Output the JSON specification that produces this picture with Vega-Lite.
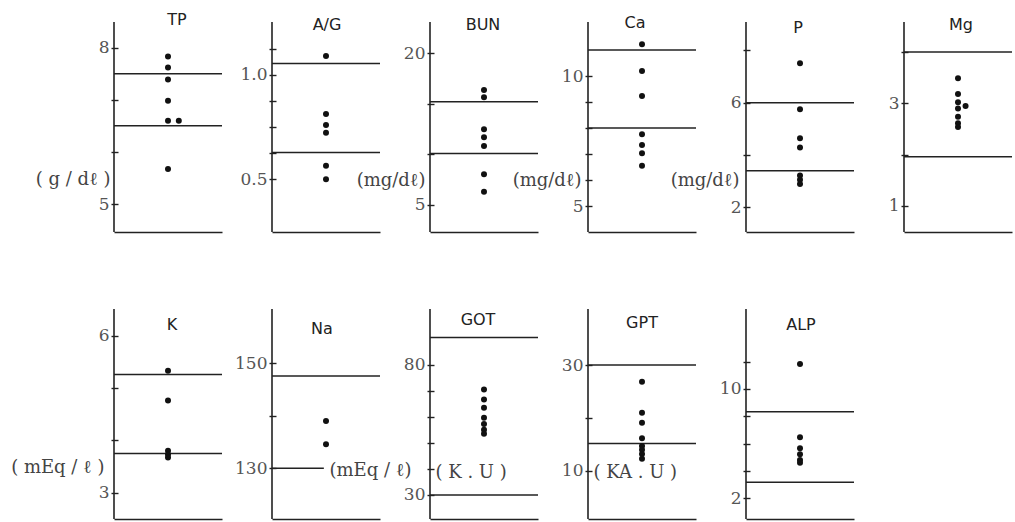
{
  "$schema": "https://vega.github.io/schema/vega-lite/v6.json",
  "autosize": {"type": "none"},
  "padding": {"left": 114, "top": 22, "right": 901, "bottom": 500},
  "background": "white",
  "bounds": "flush",
  "spacing": 287,
  "datasets": {
    "dots": [
      {"test": "TP", "value": 7.83, "j": 0}, {"test": "TP", "value": 7.62, "j": 0}, {"test": "TP", "value": 7.39, "j": 0}, {"test": "TP", "value": 6.98, "j": 0}, {"test": "TP", "value": 6.60, "j": 0}, {"test": "TP", "value": 6.60, "j": 1}, {"test": "TP", "value": 5.67, "j": 0},
      {"test": "A/G", "value": 1.091, "j": 0}, {"test": "A/G", "value": 0.813, "j": 0}, {"test": "A/G", "value": 0.760, "j": 0}, {"test": "A/G", "value": 0.723, "j": 0}, {"test": "A/G", "value": 0.565, "j": 0}, {"test": "A/G", "value": 0.500, "j": 0},
      {"test": "BUN", "value": 16.37, "j": 0}, {"test": "BUN", "value": 15.65, "j": 0}, {"test": "BUN", "value": 12.48, "j": 0}, {"test": "BUN", "value": 11.69, "j": 0}, {"test": "BUN", "value": 10.83, "j": 0}, {"test": "BUN", "value": 8.03, "j": 0}, {"test": "BUN", "value": 6.31, "j": 0},
      {"test": "Ca", "value": 11.22, "j": 0}, {"test": "Ca", "value": 10.19, "j": 0}, {"test": "Ca", "value": 9.23, "j": 0}, {"test": "Ca", "value": 7.76, "j": 0}, {"test": "Ca", "value": 7.35, "j": 0}, {"test": "Ca", "value": 7.03, "j": 0}, {"test": "Ca", "value": 6.55, "j": 0},
      {"test": "P", "value": 7.51, "j": 0}, {"test": "P", "value": 5.75, "j": 0}, {"test": "P", "value": 4.64, "j": 0}, {"test": "P", "value": 4.29, "j": 0}, {"test": "P", "value": 3.22, "j": 0}, {"test": "P", "value": 3.05, "j": 0}, {"test": "P", "value": 2.89, "j": 0},
      {"test": "Mg", "value": 3.49, "j": 0}, {"test": "Mg", "value": 3.18, "j": 0}, {"test": "Mg", "value": 3.02, "j": 0}, {"test": "Mg", "value": 2.95, "j": 0.7}, {"test": "Mg", "value": 2.90, "j": 0}, {"test": "Mg", "value": 2.74, "j": 0}, {"test": "Mg", "value": 2.61, "j": 0}, {"test": "Mg", "value": 2.54, "j": 0},
      {"test": "K", "value": 5.33, "j": 0}, {"test": "K", "value": 4.76, "j": 0}, {"test": "K", "value": 3.80, "j": 0}, {"test": "K", "value": 3.73, "j": 0}, {"test": "K", "value": 3.67, "j": 0},
      {"test": "Na", "value": 139.0, "j": 0}, {"test": "Na", "value": 134.6, "j": 0},
      {"test": "GOT", "value": 70.6, "j": 0}, {"test": "GOT", "value": 66.7, "j": 0}, {"test": "GOT", "value": 63.5, "j": 0}, {"test": "GOT", "value": 59.7, "j": 0}, {"test": "GOT", "value": 57.3, "j": 0}, {"test": "GOT", "value": 55.1, "j": 0}, {"test": "GOT", "value": 53.5, "j": 0},
      {"test": "GPT", "value": 26.85, "j": 0}, {"test": "GPT", "value": 21.0, "j": 0}, {"test": "GPT", "value": 19.1, "j": 0}, {"test": "GPT", "value": 16.2, "j": 0}, {"test": "GPT", "value": 14.7, "j": 0}, {"test": "GPT", "value": 14.0, "j": 0}, {"test": "GPT", "value": 13.2, "j": 0}, {"test": "GPT", "value": 12.3, "j": 0},
      {"test": "ALP", "value": 11.83, "j": 0}, {"test": "ALP", "value": 6.47, "j": 0}, {"test": "ALP", "value": 5.66, "j": 0}, {"test": "ALP", "value": 5.22, "j": 0}, {"test": "ALP", "value": 4.81, "j": 0}, {"test": "ALP", "value": 4.61, "j": 0}
    ],
    "limits": [
      {"test": "TP", "value": 7.5, "bound": "upper"}, {"test": "TP", "value": 6.5, "bound": "lower"},
      {"test": "A/G", "value": 1.055, "bound": "upper"}, {"test": "A/G", "value": 0.628, "bound": "lower"},
      {"test": "BUN", "value": 15.2, "bound": "upper"}, {"test": "BUN", "value": 10.1, "bound": "lower"},
      {"test": "Ca", "value": 11.0, "bound": "upper"}, {"test": "Ca", "value": 8.0, "bound": "lower"},
      {"test": "P", "value": 6.0, "bound": "upper"}, {"test": "P", "value": 3.4, "bound": "lower"},
      {"test": "Mg", "value": 4.0, "bound": "upper"}, {"test": "Mg", "value": 1.96, "bound": "lower"},
      {"test": "K", "value": 5.26, "bound": "upper"}, {"test": "K", "value": 3.75, "bound": "lower"},
      {"test": "Na", "value": 147.6, "bound": "upper"}, {"test": "Na", "value": 130, "bound": "lower"},
      {"test": "GOT", "value": 90.6, "bound": "upper"}, {"test": "GOT", "value": 30, "bound": "lower"},
      {"test": "GPT", "value": 30, "bound": "upper"}, {"test": "GPT", "value": 15.2, "bound": "lower"},
      {"test": "ALP", "value": 8.34, "bound": "upper"}, {"test": "ALP", "value": 3.17, "bound": "lower"}
    ]
  },
  "vconcat": [
    {
      "bounds": "flush",
      "spacing": 50,
      "hconcat": [
        {
          "width": 108, "height": 210,
          "title": {"text": "TP", "offset": -7, "dx": 9},
          "layer": [
            {"data": {"values": [{}]}, "mark": {"type": "rule", "color": "#222", "strokeWidth": 1.6}, "encoding": {"x": {"datum": -5, "type": "quantitative", "scale": {"domain": [-5, 5]}, "axis": {"title": null}}}},
            {"data": {"name": "limits"}, "transform": [{"filter": "datum.test === 'TP'"}], "mark": {"type": "rule", "color": "#222", "strokeWidth": 1.5},
             "encoding": {"y": {"field": "value", "type": "quantitative", "scale": {"domain": [4.463, 8.493], "nice": false, "zero": false},
               "axis": {"values": [8, 7, 6, 5], "labelExpr": "datum.value === 8 || datum.value === 5 ? datum.label : ''", "title": "( g / dℓ )", "titleX": -8, "titleY": 157}}}},
            {"data": {"name": "dots"}, "transform": [{"filter": "datum.test === 'TP'"}], "mark": {"type": "circle", "size": 36, "color": "#111", "opacity": 1},
             "encoding": {"x": {"field": "j", "type": "quantitative", "scale": {"domain": [-5, 5]}, "axis": {"title": null}}, "y": {"field": "value", "type": "quantitative", "scale": {"domain": [4.463, 8.493], "nice": false, "zero": false},
               "axis": {"values": [8, 7, 6, 5], "labelExpr": "datum.value === 8 || datum.value === 5 ? datum.label : ''", "title": "( g / dℓ )", "titleX": -8, "titleY": 157}}}}
          ]
        },
        {
          "width": 108, "height": 210,
          "title": {"text": "A/G", "offset": -12, "dx": 1},
          "layer": [
            {"data": {"values": [{}]}, "mark": {"type": "rule", "color": "#222", "strokeWidth": 1.6}, "encoding": {"x": {"datum": -5, "type": "quantitative", "scale": {"domain": [-5, 5]}, "axis": {"title": null}}}},
            {"data": {"name": "limits"}, "transform": [{"filter": "datum.test === 'A/G'"}], "mark": {"type": "rule", "color": "#222", "strokeWidth": 1.5},
             "encoding": {"y": {"field": "value", "type": "quantitative", "scale": {"domain": [0.247, 1.254], "nice": false, "zero": false},
               "axis": {"values": [1.125, 1.0, 0.875, 0.75, 0.625, 0.5], "format": ".1f", "labelExpr": "datum.value === 1 || datum.value === 0.5 ? datum.label : ''", "title": null}}}},
            {"data": {"name": "dots"}, "transform": [{"filter": "datum.test === 'A/G'"}], "mark": {"type": "circle", "size": 36, "color": "#111", "opacity": 1},
             "encoding": {"x": {"field": "j", "type": "quantitative", "scale": {"domain": [-5, 5]}, "axis": {"title": null}}, "y": {"field": "value", "type": "quantitative", "scale": {"domain": [0.247, 1.254], "nice": false, "zero": false},
               "axis": {"values": [1.125, 1.0, 0.875, 0.75, 0.625, 0.5], "format": ".1f", "labelExpr": "datum.value === 1 || datum.value === 0.5 ? datum.label : ''", "title": null}}}}
          ]
        },
        {
          "width": 108, "height": 210,
          "title": {"text": "BUN", "offset": -12, "dx": -1},
          "layer": [
            {"data": {"values": [{}]}, "mark": {"type": "rule", "color": "#222", "strokeWidth": 1.6}, "encoding": {"x": {"datum": -5, "type": "quantitative", "scale": {"domain": [-5, 5]}, "axis": {"title": null}}}},
            {"data": {"name": "limits"}, "transform": [{"filter": "datum.test === 'BUN'"}], "mark": {"type": "rule", "color": "#222", "strokeWidth": 1.5},
             "encoding": {"y": {"field": "value", "type": "quantitative", "scale": {"domain": [2.32, 23.10], "nice": false, "zero": false},
               "axis": {"values": [20, 15, 10, 5], "labelExpr": "datum.value === 20 || datum.value === 5 ? datum.label : ''", "title": "(mg/dℓ)", "titleX": -9, "titleY": 158}}}},
            {"data": {"name": "dots"}, "transform": [{"filter": "datum.test === 'BUN'"}], "mark": {"type": "circle", "size": 36, "color": "#111", "opacity": 1},
             "encoding": {"x": {"field": "j", "type": "quantitative", "scale": {"domain": [-5, 5]}, "axis": {"title": null}}, "y": {"field": "value", "type": "quantitative", "scale": {"domain": [2.32, 23.10], "nice": false, "zero": false},
               "axis": {"values": [20, 15, 10, 5], "labelExpr": "datum.value === 20 || datum.value === 5 ? datum.label : ''", "title": "(mg/dℓ)", "titleX": -9, "titleY": 158}}}}
          ]
        },
        {
          "width": 108, "height": 210,
          "title": {"text": "Ca", "offset": -10, "dx": -7},
          "layer": [
            {"data": {"values": [{}]}, "mark": {"type": "rule", "color": "#222", "strokeWidth": 1.6}, "encoding": {"x": {"datum": -5, "type": "quantitative", "scale": {"domain": [-5, 5]}, "axis": {"title": null}}}},
            {"data": {"name": "limits"}, "transform": [{"filter": "datum.test === 'Ca'"}], "mark": {"type": "rule", "color": "#222", "strokeWidth": 1.5},
             "encoding": {"y": {"field": "value", "type": "quantitative", "scale": {"domain": [4.0, 12.08], "nice": false, "zero": false},
               "axis": {"values": [10, 9, 8, 7, 6, 5], "labelExpr": "datum.value === 10 || datum.value === 5 ? datum.label : ''", "title": "(mg/dℓ)", "titleX": -11, "titleY": 158}}}},
            {"data": {"name": "dots"}, "transform": [{"filter": "datum.test === 'Ca'"}], "mark": {"type": "circle", "size": 36, "color": "#111", "opacity": 1},
             "encoding": {"x": {"field": "j", "type": "quantitative", "scale": {"domain": [-5, 5]}, "axis": {"title": null}}, "y": {"field": "value", "type": "quantitative", "scale": {"domain": [4.0, 12.08], "nice": false, "zero": false},
               "axis": {"values": [10, 9, 8, 7, 6, 5], "labelExpr": "datum.value === 10 || datum.value === 5 ? datum.label : ''", "title": "(mg/dℓ)", "titleX": -11, "titleY": 158}}}}
          ]
        },
        {
          "width": 108, "height": 210,
          "title": {"text": "P", "offset": -15, "dx": -2},
          "layer": [
            {"data": {"values": [{}]}, "mark": {"type": "rule", "color": "#222", "strokeWidth": 1.6}, "encoding": {"x": {"datum": -5, "type": "quantitative", "scale": {"domain": [-5, 5]}, "axis": {"title": null}}}},
            {"data": {"name": "limits"}, "transform": [{"filter": "datum.test === 'P'"}], "mark": {"type": "rule", "color": "#222", "strokeWidth": 1.5},
             "encoding": {"y": {"field": "value", "type": "quantitative", "scale": {"domain": [1.055, 9.086], "nice": false, "zero": false},
               "axis": {"values": [8, 6, 4, 2], "labelExpr": "datum.value === 6 || datum.value === 2 ? datum.label : ''", "title": "(mg/dℓ)", "titleX": -11, "titleY": 158}}}},
            {"data": {"name": "dots"}, "transform": [{"filter": "datum.test === 'P'"}], "mark": {"type": "circle", "size": 36, "color": "#111", "opacity": 1},
             "encoding": {"x": {"field": "j", "type": "quantitative", "scale": {"domain": [-5, 5]}, "axis": {"title": null}}, "y": {"field": "value", "type": "quantitative", "scale": {"domain": [1.055, 9.086], "nice": false, "zero": false},
               "axis": {"values": [8, 6, 4, 2], "labelExpr": "datum.value === 6 || datum.value === 2 ? datum.label : ''", "title": "(mg/dℓ)", "titleX": -11, "titleY": 158}}}}
          ]
        },
        {
          "width": 108, "height": 210,
          "title": {"text": "Mg", "offset": -12, "dx": 3},
          "layer": [
            {"data": {"values": [{}]}, "mark": {"type": "rule", "color": "#222", "strokeWidth": 1.6}, "encoding": {"x": {"datum": -5, "type": "quantitative", "scale": {"domain": [-5, 5]}, "axis": {"title": null}}}},
            {"data": {"name": "limits"}, "transform": [{"filter": "datum.test === 'Mg'"}], "mark": {"type": "rule", "color": "#222", "strokeWidth": 1.5},
             "encoding": {"y": {"field": "value", "type": "quantitative", "scale": {"domain": [0.491, 4.586], "nice": false, "zero": false},
               "axis": {"values": [4, 3, 2, 1], "labelExpr": "datum.value === 3 || datum.value === 1 ? datum.label : ''", "title": null}}}},
            {"data": {"name": "dots"}, "transform": [{"filter": "datum.test === 'Mg'"}], "mark": {"type": "circle", "size": 36, "color": "#111", "opacity": 1},
             "encoding": {"x": {"field": "j", "type": "quantitative", "scale": {"domain": [-5, 5]}, "axis": {"title": null}}, "y": {"field": "value", "type": "quantitative", "scale": {"domain": [0.491, 4.586], "nice": false, "zero": false},
               "axis": {"values": [4, 3, 2, 1], "labelExpr": "datum.value === 3 || datum.value === 1 ? datum.label : ''", "title": null}}}}
          ]
        }
      ]
    },
    {
      "bounds": "flush",
      "spacing": 50,
      "hconcat": [
        {
          "width": 108, "height": 210,
          "title": {"text": "K", "offset": -25, "dx": 4},
          "layer": [
            {"data": {"values": [{}]}, "mark": {"type": "rule", "color": "#222", "strokeWidth": 1.6}, "encoding": {"x": {"datum": -5, "type": "quantitative", "scale": {"domain": [-5, 5]}, "axis": {"title": null}}}},
            {"data": {"name": "limits"}, "transform": [{"filter": "datum.test === 'K'"}], "mark": {"type": "rule", "color": "#222", "strokeWidth": 1.5},
             "encoding": {"y": {"field": "value", "type": "quantitative", "scale": {"domain": [2.495, 6.511], "nice": false, "zero": false},
               "axis": {"values": [6, 5, 4, 3], "labelExpr": "datum.value === 6 || datum.value === 3 ? datum.label : ''", "title": "( mEq / ℓ )", "titleX": -14, "titleY": 158}}}},
            {"data": {"name": "dots"}, "transform": [{"filter": "datum.test === 'K'"}], "mark": {"type": "circle", "size": 36, "color": "#111", "opacity": 1},
             "encoding": {"x": {"field": "j", "type": "quantitative", "scale": {"domain": [-5, 5]}, "axis": {"title": null}}, "y": {"field": "value", "type": "quantitative", "scale": {"domain": [2.495, 6.511], "nice": false, "zero": false},
               "axis": {"values": [6, 5, 4, 3], "labelExpr": "datum.value === 6 || datum.value === 3 ? datum.label : ''", "title": "( mEq / ℓ )", "titleX": -14, "titleY": 158}}}}
          ]
        },
        {
          "width": 108, "height": 210,
          "title": {"text": "Na", "offset": -29, "dx": -4},
          "layer": [
            {"data": {"values": [{}]}, "mark": {"type": "rule", "color": "#222", "strokeWidth": 1.6}, "encoding": {"x": {"datum": -5, "type": "quantitative", "scale": {"domain": [-5, 5]}, "axis": {"title": null}}}},
            {"data": {"name": "limits"}, "transform": [{"filter": "datum.test === 'Na' && datum.bound === 'upper'"}], "mark": {"type": "rule", "color": "#222", "strokeWidth": 1.5},
             "encoding": {"y": {"field": "value", "type": "quantitative", "scale": {"domain": [120.34, 160.34], "nice": false, "zero": false},
               "axis": {"values": [150, 140, 130], "labelExpr": "datum.value === 150 || datum.value === 130 ? datum.label : ''", "title": "(mEq / ℓ)", "titleAlign": "left", "titleX": 53, "titleY": 161}}}},
            {"data": {"name": "limits"}, "transform": [{"filter": "datum.test === 'Na' && datum.bound === 'lower'"}], "mark": {"type": "rule", "color": "#222", "strokeWidth": 1.5},
             "encoding": {"x": {"datum": -5, "type": "quantitative", "scale": {"domain": [-5, 5]}, "axis": {"title": null}}, "x2": {"datum": -0.2},
               "y": {"field": "value", "type": "quantitative", "scale": {"domain": [120.34, 160.34], "nice": false, "zero": false},
               "axis": {"values": [150, 140, 130], "labelExpr": "datum.value === 150 || datum.value === 130 ? datum.label : ''", "title": "(mEq / ℓ)", "titleAlign": "left", "titleX": 53, "titleY": 161}}}},
            {"data": {"name": "dots"}, "transform": [{"filter": "datum.test === 'Na'"}], "mark": {"type": "circle", "size": 36, "color": "#111", "opacity": 1},
             "encoding": {"x": {"field": "j", "type": "quantitative", "scale": {"domain": [-5, 5]}, "axis": {"title": null}}, "y": {"field": "value", "type": "quantitative", "scale": {"domain": [120.34, 160.34], "nice": false, "zero": false},
               "axis": {"values": [150, 140, 130], "labelExpr": "datum.value === 150 || datum.value === 130 ? datum.label : ''", "title": "(mEq / ℓ)", "titleAlign": "left", "titleX": 53, "titleY": 161}}}}
          ]
        },
        {
          "width": 108, "height": 210,
          "title": {"text": "GOT", "offset": -20, "dx": -6},
          "layer": [
            {"data": {"values": [{}]}, "mark": {"type": "rule", "color": "#222", "strokeWidth": 1.6}, "encoding": {"x": {"datum": -5, "type": "quantitative", "scale": {"domain": [-5, 5]}, "axis": {"title": null}}}},
            {"data": {"name": "limits"}, "transform": [{"filter": "datum.test === 'GOT'"}], "mark": {"type": "rule", "color": "#222", "strokeWidth": 1.5},
             "encoding": {"y": {"field": "value", "type": "quantitative", "scale": {"domain": [20.74, 101.53], "nice": false, "zero": false},
               "axis": {"values": [80, 70, 60, 50, 40, 30], "labelExpr": "datum.value === 80 || datum.value === 30 ? datum.label : ''", "title": "( K . U )", "titleAlign": "left", "titleX": 1, "titleY": 163}}}},
            {"data": {"name": "dots"}, "transform": [{"filter": "datum.test === 'GOT'"}], "mark": {"type": "circle", "size": 36, "color": "#111", "opacity": 1},
             "encoding": {"x": {"field": "j", "type": "quantitative", "scale": {"domain": [-5, 5]}, "axis": {"title": null}}, "y": {"field": "value", "type": "quantitative", "scale": {"domain": [20.74, 101.53], "nice": false, "zero": false},
               "axis": {"values": [80, 70, 60, 50, 40, 30], "labelExpr": "datum.value === 80 || datum.value === 30 ? datum.label : ''", "title": "( K . U )", "titleAlign": "left", "titleX": 1, "titleY": 163}}}}
          ]
        },
        {
          "width": 108, "height": 210,
          "title": {"text": "GPT", "offset": -23, "dx": 0},
          "layer": [
            {"data": {"values": [{}]}, "mark": {"type": "rule", "color": "#222", "strokeWidth": 1.6}, "encoding": {"x": {"datum": -5, "type": "quantitative", "scale": {"domain": [-5, 5]}, "axis": {"title": null}}}},
            {"data": {"name": "limits"}, "transform": [{"filter": "datum.test === 'GPT'"}], "mark": {"type": "rule", "color": "#222", "strokeWidth": 1.5},
             "encoding": {"y": {"field": "value", "type": "quantitative", "scale": {"domain": [0.94, 40.57], "nice": false, "zero": false},
               "axis": {"values": [30, 20, 10], "labelExpr": "datum.value === 30 || datum.value === 10 ? datum.label : ''", "title": "( KA . U )", "titleAlign": "left", "titleX": 1, "titleY": 163}}}},
            {"data": {"name": "dots"}, "transform": [{"filter": "datum.test === 'GPT'"}], "mark": {"type": "circle", "size": 36, "color": "#111", "opacity": 1},
             "encoding": {"x": {"field": "j", "type": "quantitative", "scale": {"domain": [-5, 5]}, "axis": {"title": null}}, "y": {"field": "value", "type": "quantitative", "scale": {"domain": [0.94, 40.57], "nice": false, "zero": false},
               "axis": {"values": [30, 20, 10], "labelExpr": "datum.value === 30 || datum.value === 10 ? datum.label : ''", "title": "( KA . U )", "titleAlign": "left", "titleX": 1, "titleY": 163}}}}
          ]
        },
        {
          "width": 108, "height": 210,
          "title": {"text": "ALP", "offset": -25, "dx": 1},
          "layer": [
            {"data": {"values": [{}]}, "mark": {"type": "rule", "color": "#222", "strokeWidth": 1.6}, "encoding": {"x": {"datum": -5, "type": "quantitative", "scale": {"domain": [-5, 5]}, "axis": {"title": null}}}},
            {"data": {"name": "limits"}, "transform": [{"filter": "datum.test === 'ALP'"}], "mark": {"type": "rule", "color": "#222", "strokeWidth": 1.5},
             "encoding": {"y": {"field": "value", "type": "quantitative", "scale": {"domain": [0.49, 15.85], "nice": false, "zero": false},
               "axis": {"values": [12, 10, 8, 6, 4, 2], "labelExpr": "datum.value === 10 || datum.value === 2 ? datum.label : ''", "title": null}}}},
            {"data": {"name": "dots"}, "transform": [{"filter": "datum.test === 'ALP'"}], "mark": {"type": "circle", "size": 36, "color": "#111", "opacity": 1},
             "encoding": {"x": {"field": "j", "type": "quantitative", "scale": {"domain": [-5, 5]}, "axis": {"title": null}}, "y": {"field": "value", "type": "quantitative", "scale": {"domain": [0.49, 15.85], "nice": false, "zero": false},
               "axis": {"values": [12, 10, 8, 6, 4, 2], "labelExpr": "datum.value === 10 || datum.value === 2 ? datum.label : ''", "title": null}}}}
          ]
        }
      ]
    }
  ],
  "config": {
    "view": {"stroke": null},
    "title": {"font": "DejaVu Sans", "fontSize": 16, "fontWeight": "normal", "color": "#222", "anchor": "middle", "frame": "group", "baseline": "middle"},
    "axis": {"grid": false},
    "axisX": {"domain": true, "domainColor": "#222", "domainWidth": 1.6, "ticks": false, "labels": false},
    "axisY": {"domain": false, "offset": -4, "tickSize": 7, "tickColor": "#222", "tickWidth": 1.4, "labelFont": "DejaVu Serif", "labelFontSize": 17, "labelColor": "#555", "labelPadding": 2, "labelOverlap": false, "labelFlush": false, "titleAngle": 0, "titleAlign": "right", "titleBaseline": "middle", "titleFont": "DejaVu Serif", "titleFontSize": 18, "titleFontWeight": "normal", "titleColor": "#444"}
  }
}
